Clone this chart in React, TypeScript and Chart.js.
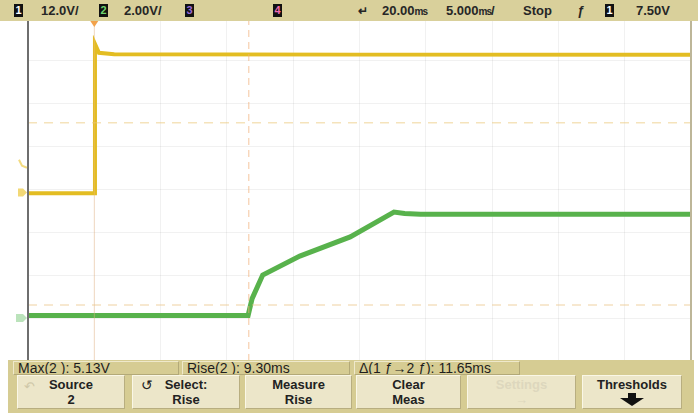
import React, { useEffect, useRef } from "react";
import { Chart, registerables } from "chart.js";
Chart.register(...registerables);

// Time base: 5.000 ms/div, delay 20.00 ms (trigger one division from left)
const TIME_MIN = -5;
const TIME_MAX = 45;
const TIME_STEP = 5;
// Channel 1: 12.0 V/div ; Channel 2: 2.00 V/div
const CH1_MIN = -47;
const CH1_MAX = 49;
const CH2_MIN = -2;
const CH2_MAX = 14;
const CH2_STEP = 2;
const TRIGGER_LEVEL = 7.5;
const DELTA_MS = 11.65;

const ch1Time = [-5, 0, 0.05, 0.35, 1.5, 20, 45];
const ch1Volts = [-0.2, -0.2, 41.5, 39.0, 38.6, 38.5, 38.5];

const ch2Time = [-5, 11.6, 11.9, 12.7, 15.5, 19.3, 22.6, 23.4, 24.6, 45];
const ch2Volts = [0.12, 0.12, 0.9, 2.0, 2.88, 3.77, 4.93, 4.86, 4.82, 4.82];

const ch1Threshold = 19.5;
const ch2Threshold = 0.6;

const headerLeft = [
  { box: "1", boxColor: "#ffffff", text: "12.0V/", x: 14, tx: 41 },
  { box: "2", boxColor: "#6fd36f", text: "2.00V/", x: 99, tx: 124 },
  { box: "3", boxColor: "#9a6ad6", text: "", x: 185, tx: 0 },
  { box: "4", boxColor: "#f06ab0", text: "", x: 273, tx: 0 },
];

const measurements = [
  { text: "Max(2 ): 5.13V", x: 13, w: 166 },
  { text: "Rise(2 ): 9.30ms", x: 182, w: 168 },
  { text: "\u0394(1 \u0192\u21922 \u0192): 11.65ms", x: 354, w: 166 },
];

const buttons = [
  { l1: "Source", l2: "2", x: 17, w: 108, dim: false },
  { l1: "Select:", l2: "Rise", x: 132, w: 108, dim: false },
  { l1: "Measure", l2: "Rise", x: 245, w: 107, dim: false },
  { l1: "Clear", l2: "Meas", x: 356, w: 105, dim: false },
  { l1: "Settings", l2: "\u2192", x: 467, w: 109, dim: true },
  { l1: "Thresholds", l2: "", x: 582, w: 100, dim: false },
];

const FONT = "'Liberation Sans', Arial, sans-serif";

const scopePlugin = {
  id: "scopeMarks",
  afterDatasetsDraw(chart: any) {
    const { ctx, chartArea, scales } = chart;
    const x = scales.x;
    const y1 = scales.y1;
    const y2 = scales.y2;
    ctx.save();
    ctx.strokeStyle = "#6e6e6e";
    ctx.lineWidth = 2;
    ctx.beginPath();
    ctx.moveTo(chartArea.left, chartArea.top);
    ctx.lineTo(chartArea.left, chartArea.bottom);
    ctx.stroke();
    ctx.strokeStyle = "#bdb698";
    ctx.lineWidth = 2;
    ctx.beginPath();
    ctx.moveTo(chartArea.right, chartArea.top);
    ctx.lineTo(chartArea.right, chartArea.bottom);
    ctx.stroke();
    const tx = x.getPixelForValue(0);
    ctx.fillStyle = "#f2a24a";
    ctx.beginPath();
    ctx.moveTo(tx - 4, 21);
    ctx.lineTo(tx + 4, 21);
    ctx.lineTo(tx, 27);
    ctx.closePath();
    ctx.fill();
    const g1 = y1.getPixelForValue(0);
    ctx.fillStyle = "rgba(236,200,60,0.7)";
    ctx.beginPath();
    ctx.moveTo(18, g1 - 4);
    ctx.lineTo(23, g1 - 4);
    ctx.lineTo(27, g1);
    ctx.lineTo(23, g1 + 4);
    ctx.lineTo(18, g1 + 4);
    ctx.closePath();
    ctx.fill();
    const tl = y1.getPixelForValue(TRIGGER_LEVEL);
    ctx.strokeStyle = "rgba(236,200,60,0.65)";
    ctx.lineWidth = 2;
    ctx.beginPath();
    ctx.moveTo(19, tl - 6);
    ctx.lineTo(22, tl);
    ctx.lineTo(27, tl + 2);
    ctx.stroke();
    const g2 = y2.getPixelForValue(0);
    ctx.fillStyle = "rgba(120,200,120,0.5)";
    ctx.beginPath();
    ctx.moveTo(16, g2 - 4);
    ctx.lineTo(23, g2 - 4);
    ctx.lineTo(27, g2);
    ctx.lineTo(23, g2 + 4);
    ctx.lineTo(16, g2 + 4);
    ctx.closePath();
    ctx.fill();
    ctx.restore();
  },
};

function ScopeChart() {
  const ref = useRef<HTMLCanvasElement | null>(null);
  useEffect(() => {
    if (!ref.current) return;
    const pts = (xs: number[], ys: number[]) => xs.map((t, i) => ({ x: t, y: ys[i] }));
    const chart = new Chart(ref.current, {
      type: "line",
      data: {
        datasets: [
          {
            label: "ch1 threshold",
            data: [
              { x: TIME_MIN, y: ch1Threshold },
              { x: TIME_MAX, y: ch1Threshold },
            ],
            yAxisID: "y1",
            borderColor: "rgba(236,200,120,0.5)",
            borderWidth: 1.5,
            borderDash: [9, 7],
            pointRadius: 0,
          },
          {
            label: "ch2 threshold",
            data: [
              { x: TIME_MIN, y: ch2Threshold },
              { x: TIME_MAX, y: ch2Threshold },
            ],
            yAxisID: "y2",
            borderColor: "rgba(236,195,130,0.5)",
            borderWidth: 1.5,
            borderDash: [9, 7],
            pointRadius: 0,
          },
          {
            label: "trigger cursor",
            data: [
              { x: 0, y: CH1_MIN },
              { x: 0, y: CH1_MAX },
            ],
            yAxisID: "y1",
            borderColor: "rgba(240,185,130,0.45)",
            borderWidth: 1,
            pointRadius: 0,
          },
          {
            label: "delta cursor",
            data: [
              { x: DELTA_MS, y: CH1_MIN },
              { x: DELTA_MS, y: CH1_MAX },
            ],
            yAxisID: "y1",
            borderColor: "rgba(240,175,120,0.6)",
            borderWidth: 1.2,
            borderDash: [7, 5],
            pointRadius: 0,
          },
          {
            label: "Channel 1",
            data: pts(ch1Time, ch1Volts),
            yAxisID: "y1",
            borderColor: "#e3bd22",
            borderWidth: 4,
            pointRadius: 0,
            tension: 0,
          },
          {
            label: "Channel 2",
            data: pts(ch2Time, ch2Volts),
            yAxisID: "y2",
            borderColor: "#58b24c",
            borderWidth: 5,
            pointRadius: 0,
            tension: 0,
          },
        ],
      },
      options: {
        responsive: false,
        animation: false,
        events: [],
        layout: { padding: { left: 28, right: 7, top: 17, bottom: 52 } },
        plugins: { legend: { display: false }, tooltip: { enabled: false } },
        scales: {
          x: {
            type: "linear",
            min: TIME_MIN,
            max: TIME_MAX,
            ticks: { display: false, stepSize: TIME_STEP },
            grid: { color: "rgba(0,0,0,0.055)", drawTicks: false },
            border: { display: false },
          },
          y2: {
            type: "linear",
            position: "left",
            min: CH2_MIN,
            max: CH2_MAX,
            ticks: { display: false, stepSize: CH2_STEP },
            grid: { color: "rgba(0,0,0,0.055)", drawTicks: false },
            border: { display: false },
          },
          y1: {
            type: "linear",
            display: false,
            min: CH1_MIN,
            max: CH1_MAX,
          },
        },
      },
      plugins: [scopePlugin],
    });
    return () => chart.destroy();
  }, []);
  return (
    <canvas
      ref={ref}
      width={698}
      height={413}
      style={{ position: "absolute", left: 0, top: 0, width: 698, height: 413 }}
    />
  );
}

const chanBox = (ch: string, color: string, x: number) => (
  <div
    key={"b" + ch + x}
    style={{
      position: "absolute",
      left: x,
      top: 4,
      width: 9,
      height: 13,
      background: "#111",
      color,
      fontSize: 11,
      fontWeight: 700,
      lineHeight: "13px",
      textAlign: "center",
    }}
  >
    {ch}
  </div>
);

const txt = (s: React.ReactNode, x: number, key: string) => (
  <div
    key={key}
    style={{
      position: "absolute",
      left: x,
      top: 3,
      fontSize: 13,
      fontWeight: 700,
      lineHeight: "16px",
      color: "#262626",
      whiteSpace: "nowrap",
    }}
  >
    {s}
  </div>
);

const ms = <span style={{ fontSize: 10, letterSpacing: -1 }}>ms</span>;

export default function App() {
  return (
    <div
      style={{
        position: "fixed",
        left: 0,
        top: 0,
        width: 698,
        height: 413,
        background: "#ffffff",
        fontFamily: FONT,
        overflow: "hidden",
      }}
    >
      <ScopeChart />
      <div style={{ position: "absolute", left: 0, top: 0, width: 698, height: 21, background: "#d9d09b" }}>
        {headerLeft.map((h) => (
          <React.Fragment key={h.box}>
            {chanBox(h.box, h.boxColor, h.x)}
            {h.text ? txt(h.text, h.tx, "t" + h.box) : null}
          </React.Fragment>
        ))}
        {txt(<span style={{ fontSize: 12 }}>{"\u21b5"}</span>, 358, "dly")}
        {txt(<>20.00{ms}</>, 382, "d")}
        {txt(<>5.000{ms}/</>, 446, "tb")}
        {txt("Stop", 523, "st")}
        {txt(<i>{"\u0192"}</i>, 577, "tr")}
        {chanBox("1", "#ffffff", 605)}
        {txt("7.50V", 636, "lv")}
      </div>
      <div style={{ position: "absolute", left: 8, top: 360, width: 686, height: 53, background: "#d6cc93" }} />
      {measurements.map((m) => (
        <div
          key={m.text}
          style={{
            position: "absolute",
            left: m.x,
            top: 361,
            width: m.w,
            height: 14,
            boxSizing: "border-box",
            borderTop: "1px solid #efe9cb",
            borderLeft: "1px solid #efe9cb",
            borderRight: "1px solid #b3a978",
            borderBottom: "1px solid #b3a978",
            fontSize: 14,
            lineHeight: "13px",
            paddingLeft: 4,
            color: "#1e1e1e",
            whiteSpace: "nowrap",
            overflow: "hidden",
          }}
        >
          {m.text}
        </div>
      ))}
      {buttons.map((b) => (
        <div
          key={b.l1}
          style={{
            position: "absolute",
            left: b.x,
            top: 375,
            width: b.w,
            height: 34,
            boxSizing: "border-box",
            background: "#ece6c9",
            borderTop: "1px solid #faf7e6",
            borderLeft: "1px solid #faf7e6",
            borderRight: "1px solid #b8ae80",
            borderBottom: "1px solid #b8ae80",
            textAlign: "center",
            fontSize: 13,
            fontWeight: 700,
            lineHeight: "15px",
            paddingTop: 1,
            color: b.dim ? "#ddd7bd" : "#222",
          }}
        >
          {b.l1 === "Source" ? (
            <span style={{ position: "absolute", left: 6, top: 3, color: "#cfc8a8", fontWeight: 400 }}>{"\u21b6"}</span>
          ) : null}
          {b.l1 === "Select:" ? (
            <span style={{ position: "absolute", left: 8, top: 2, color: "#222", fontWeight: 400, fontSize: 14 }}>{"\u21ba"}</span>
          ) : null}
          <div>{b.l1}</div>
          {b.l1 === "Thresholds" ? (
            <div style={{ position: "relative", height: 15 }}>
              <div
                style={{
                  position: "absolute",
                  left: "50%",
                  top: 1,
                  marginLeft: -4,
                  width: 8,
                  height: 6,
                  background: "#111",
                }}
              />
              <div
                style={{
                  position: "absolute",
                  left: "50%",
                  top: 6,
                  marginLeft: -12,
                  width: 0,
                  height: 0,
                  borderLeft: "12px solid transparent",
                  borderRight: "12px solid transparent",
                  borderTop: "8px solid #111",
                }}
              />
            </div>
          ) : (
            <div>{b.l2}</div>
          )}
        </div>
      ))}
    </div>
  );
}
